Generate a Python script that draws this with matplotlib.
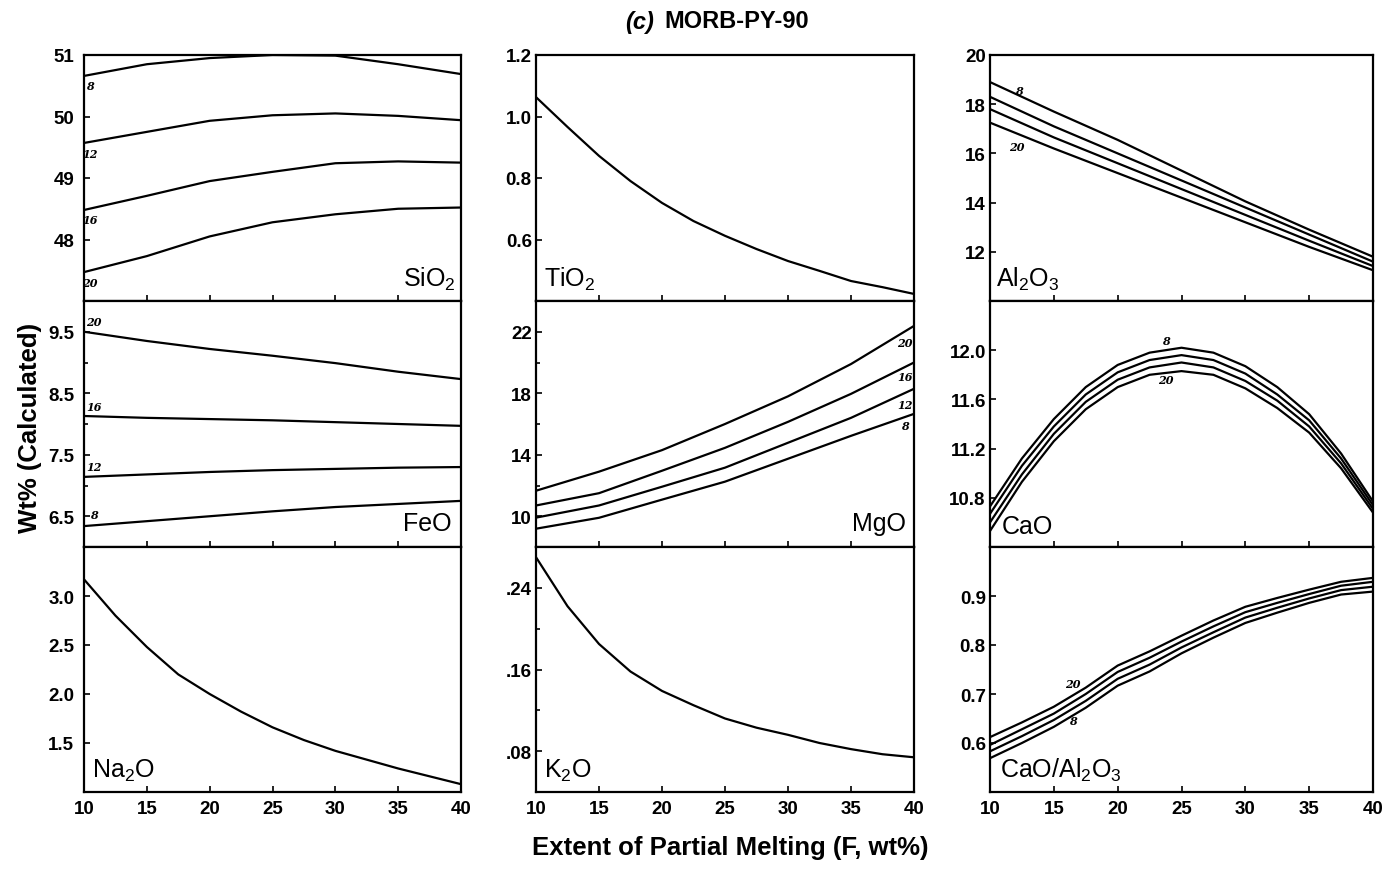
import matplotlib
matplotlib.use("Agg")
import matplotlib.pyplot as plt

plt.rcParams['font.family'] = ['Liberation Sans', 'DejaVu Sans']
plt.rcParams['mathtext.default'] = 'regular'

# melting extent (F, wt%)
F5 = [10, 15, 20, 25, 30, 35, 40]
F25 = [10, 12.5, 15, 17.5, 20, 22.5, 25, 27.5, 30, 32.5, 35, 37.5, 40]

# SiO2, one curve per pressure (kbar) on the F5 grid
sio2 = {
    "8": [50.66, 50.85, 50.95, 51.0, 50.99, 50.85, 50.69],
    "12": [49.57, 49.75, 49.93, 50.02, 50.05, 50.01, 49.94],
    "16": [48.48, 48.71, 48.95, 49.10, 49.24, 49.27, 49.25],
    "20": [47.47, 47.73, 48.05, 48.28, 48.41, 48.50, 48.52],
}

# TiO2 on the F25 grid
tio2 = [1.063, 0.966, 0.872, 0.790, 0.719, 0.660, 0.612, 0.569, 0.530,
        0.498, 0.465, 0.445, 0.423]

# Al2O3 on the F5 grid
al2o3 = {
    "8": [18.90, 17.70, 16.55, 15.30, 14.05, 12.90, 11.80],
    "12": [18.30, 17.10, 16.00, 14.90, 13.80, 12.70, 11.60],
    "16": [17.80, 16.65, 15.60, 14.55, 13.50, 12.45, 11.42],
    "20": [17.25, 16.20, 15.20, 14.20, 13.20, 12.20, 11.25],
}

# FeO on the F5 grid
feo = {
    "20": [9.50, 9.35, 9.22, 9.11, 8.99, 8.85, 8.73],
    "16": [8.13, 8.10, 8.08, 8.06, 8.03, 8.00, 7.97],
    "12": [7.14, 7.18, 7.22, 7.25, 7.27, 7.29, 7.30],
    "8": [6.34, 6.42, 6.50, 6.58, 6.65, 6.70, 6.75],
}

# MgO on the F5 grid
mgo = {
    "20": [11.66, 12.90, 14.30, 16.00, 17.80, 19.90, 22.38],
    "16": [10.70, 11.50, 12.96, 14.45, 16.14, 17.96, 20.00],
    "12": [9.91, 10.70, 11.92, 13.16, 14.78, 16.40, 18.29],
    "8": [9.19, 9.90, 11.08, 12.25, 13.74, 15.23, 16.66],
}

# CaO on the F25 grid
cao = {
    "8": [10.73, 11.12, 11.44, 11.70, 11.88, 11.98, 12.02, 11.98, 11.87,
          11.70, 11.48, 11.16, 10.77],
    "12": [10.67, 11.06, 11.38, 11.64, 11.82, 11.92, 11.96, 11.92, 11.81,
           11.64, 11.43, 11.12, 10.74],
    "16": [10.60, 10.99, 11.32, 11.58, 11.76, 11.86, 11.90, 11.86, 11.75,
           11.59, 11.38, 11.08, 10.71],
    "20": [10.53, 10.93, 11.26, 11.52, 11.70, 11.80, 11.83, 11.80, 11.69,
           11.53, 11.33, 11.04, 10.68],
}

# Na2O and K2O on the F25 grid
na2o = [3.17, 2.80, 2.48, 2.20, 2.00, 1.82, 1.66, 1.53, 1.42, 1.33, 1.24,
        1.16, 1.08]
k2o = [0.270, 0.222, 0.185, 0.158, 0.139, 0.125, 0.112, 0.103, 0.096,
       0.088, 0.082, 0.077, 0.074]

# CaO/Al2O3 on the F25 grid
ca_al = {
    "20": [0.612, 0.642, 0.674, 0.713, 0.758, 0.787, 0.819, 0.850, 0.878,
           0.896, 0.913, 0.929, 0.937],
    "16": [0.596, 0.628, 0.660, 0.700, 0.745, 0.774, 0.807, 0.838, 0.867,
           0.886, 0.904, 0.921, 0.929],
    "12": [0.583, 0.614, 0.647, 0.686, 0.731, 0.760, 0.795, 0.826, 0.856,
           0.876, 0.895, 0.912, 0.919],
    "8": [0.569, 0.600, 0.633, 0.672, 0.717, 0.746, 0.783, 0.815, 0.845,
          0.866, 0.886, 0.903, 0.909],
}

W, H = 1391, 870
fig = plt.figure(figsize=(W / 100, H / 100), dpi=100)

cols = [(84, 461), (536, 914), (990, 1373)]
rows = [(56, 302), (302, 548), (548, 793)]


def make_ax(r, c):
    x0, x1 = cols[c]
    y0, y1 = rows[r]
    ax = fig.add_axes([x0 / W, 1 - y1 / H, (x1 - x0) / W, (y1 - y0) / H])
    ax.set_xlim(10, 40)
    ax.set_xticks([10, 15, 20, 25, 30, 35, 40])
    ax.tick_params(axis='x', direction='in', length=4, width=1.2, top=False,
                   labelsize=13.5, pad=6)
    ax.tick_params(axis='y', direction='in', length=4, width=1.2, right=False,
                   labelsize=13.5, pad=7 if c == 0 else 3)
    ax.tick_params(axis='y', which='minor', direction='in', length=3, width=1.2)
    if r < 2:
        ax.tick_params(axis='x', labelbottom=False)
    for s in ax.spines.values():
        s.set_linewidth(1.6)
    return ax


def bold_ticks(ax):
    for lab in ax.get_xticklabels() + ax.get_yticklabels():
        lab.set_fontweight('bold')


def tag(ax, x, y, s):
    ax.text(x, y, s, fontsize=8, style='italic', fontweight='bold',
            family='DejaVu Serif', ha='center', va='center')


def name(ax, x, s, ha):
    ax.text(x, 0.035, s, transform=ax.transAxes, ha=ha, va='bottom',
            fontsize=18)


LW = 1.6

# SiO2
ax = make_ax(0, 0)
for k, v in sio2.items():
    ax.plot(F5, v, color='black', lw=LW)
ax.set_ylim(47, 51)
ax.set_yticks([48, 49, 50, 51])
for s, y in [("8", 50.5), ("12", 49.4), ("16", 48.33), ("20", 47.3)]:
    tag(ax, 10.45, y, s)
name(ax, 0.985, "SiO$_2$", 'right')
bold_ticks(ax)

# TiO2
ax = make_ax(0, 1)
ax.plot(F25, tio2, color='black', lw=LW)
ax.set_ylim(0.4, 1.2)
ax.set_yticks([0.6, 0.8, 1.0, 1.2])
ax.set_yticklabels(["0.6", "0.8", "1.0", "1.2"])
name(ax, 0.02, "TiO$_2$", 'left')
bold_ticks(ax)

# Al2O3
ax = make_ax(0, 2)
for k, v in al2o3.items():
    ax.plot(F5, v, color='black', lw=LW)
ax.set_ylim(10, 20)
ax.set_yticks([12, 14, 16, 18, 20])
tag(ax, 12.3, 18.55, "8")
tag(ax, 12.1, 16.3, "20")
name(ax, 0.015, "Al$_2$O$_3$", 'left')
bold_ticks(ax)

# FeO
ax = make_ax(1, 0)
for k, v in feo.items():
    ax.plot(F5, v, color='black', lw=LW)
ax.set_ylim(6, 10)
ax.set_yticks([6.5, 7.5, 8.5, 9.5])
ax.set_yticks([7, 8, 9], minor=True)
for s, y in [("20", 9.67), ("16", 8.29), ("12", 7.31), ("8", 6.53)]:
    tag(ax, 10.8, y, s)
ax.text(0.975, 0.05, "FeO", transform=ax.transAxes, ha='right',
        va='bottom', fontsize=18)
bold_ticks(ax)

# MgO
ax = make_ax(1, 1)
for k, v in mgo.items():
    ax.plot(F5, v, color='black', lw=LW)
ax.set_ylim(8, 24)
ax.set_yticks([10, 14, 18, 22])
ax.set_yticks([12, 16, 20], minor=True)
for s, y in [("20", 21.3), ("16", 19.1), ("12", 17.3), ("8", 15.9)]:
    tag(ax, 39.3, y, s)
ax.text(0.98, 0.05, "MgO", transform=ax.transAxes, ha='right',
        va='bottom', fontsize=18)
bold_ticks(ax)

# CaO
ax = make_ax(1, 2)
for k, v in cao.items():
    ax.plot(F25, v, color='black', lw=LW)
ax.set_ylim(10.4, 12.4)
ax.set_yticks([10.8, 11.2, 11.6, 12.0])
ax.set_yticklabels(["10.8", "11.2", "11.6", "12.0"])
tag(ax, 23.75, 12.08, "8")
tag(ax, 23.75, 11.76, "20")
name(ax, 0.03, "CaO", 'left')
bold_ticks(ax)

# Na2O
ax = make_ax(2, 0)
ax.plot(F25, na2o, color='black', lw=LW)
ax.set_ylim(1.0, 3.5)
ax.set_yticks([1.5, 2.0, 2.5, 3.0])
ax.set_yticklabels(["1.5", "2.0", "2.5", "3.0"])
name(ax, 0.02, "Na$_2$O", 'left')
bold_ticks(ax)

# K2O
ax = make_ax(2, 1)
ax.plot(F25, k2o, color='black', lw=LW)
ax.set_ylim(0.04, 0.28)
ax.set_yticks([0.08, 0.16, 0.24])
ax.set_yticklabels([".08", ".16", ".24"])
ax.set_yticks([0.12, 0.20], minor=True)
name(ax, 0.02, "K$_2$O", 'left')
bold_ticks(ax)

# CaO/Al2O3
ax = make_ax(2, 2)
for k, v in ca_al.items():
    ax.plot(F25, v, color='black', lw=LW)
ax.set_ylim(0.5, 1.0)
ax.set_yticks([0.6, 0.7, 0.8, 0.9])
ax.set_yticklabels(["0.6", "0.7", "0.8", "0.9"])
tag(ax, 16.5, 0.722, "20")
tag(ax, 16.5, 0.645, "8")
name(ax, 0.025, "CaO/Al$_2$O$_3$", 'left')
bold_ticks(ax)

# title, shared axis labels
fig.text(654 / W, 1 - 22 / H, "(c)", ha='right', va='center', fontsize=17,
         fontweight='bold', style='italic')
fig.text(664 / W, 1 - 22 / H, "MORB-PY-90", ha='left', va='center',
         fontsize=17, fontweight='bold')
fig.text(730 / W, 1 - 848 / H, "Extent of Partial Melting (F, wt%)",
         ha='center', va='center', fontsize=18.5, fontweight='bold')
fig.text(30 / W, 1 - 428 / H, "Wt% (Calculated)", ha='center', va='center',
         rotation=90, fontsize=18.5, fontweight='bold')

fig.savefig("out.png", dpi=100)
